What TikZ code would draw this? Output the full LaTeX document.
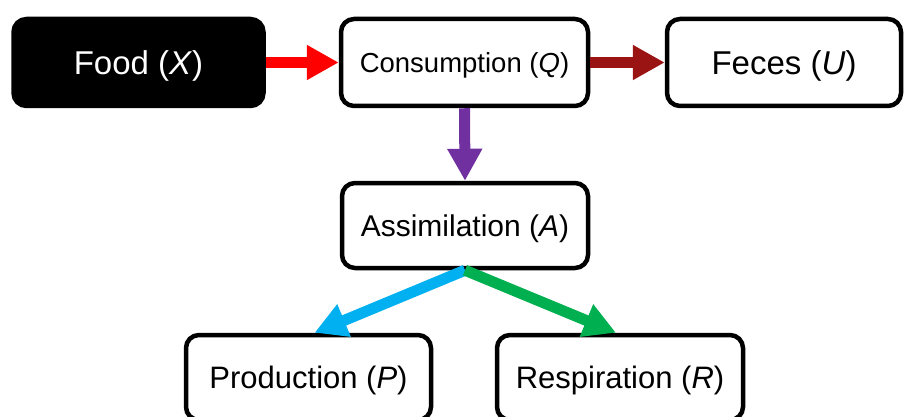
\documentclass[tikz,border=0pt]{standalone}
\usepackage{fontspec}
\setmainfont{Liberation Sans}
\usetikzlibrary{arrows.meta,calc}
\definecolor{arrred}{RGB}{255,0,0}
\definecolor{arrdark}{RGB}{155,20,20}
\definecolor{arrpurple}{RGB}{112,48,160}
\definecolor{arrcyan}{RGB}{0,176,240}
\definecolor{arrgreen}{RGB}{0,176,80}
\tikzset{
  box/.style={draw=black, line width=4.5pt, rounded corners=13pt, fill=white,
    inner sep=0pt, align=center, text depth=0pt},
  foodbox/.style={box, fill=black, text=white},
  flow/.style={line width=11pt, -{Triangle[width=33pt,length=32pt]}},
}
\begin{document}
\begin{tikzpicture}[x=1pt,y=-1pt]
\useasboundingbox (0,0) rectangle (905,417);
\clip (0,0) rectangle (905,417);
\node[foodbox, minimum width=250pt, minimum height=87pt] (food) at (138.5,62.5)
  {\fontsize{33}{36}\selectfont Food (\textit{X})};
\node[box, minimum width=247pt, minimum height=87pt] (cons) at (464.5,62.5)
  {\fontsize{27.5}{30}\selectfont Consumption (\textit{Q})};
\node[box, minimum width=234pt, minimum height=87pt] (feces) at (784,62.5)
  {\fontsize{33}{36}\selectfont Feces (\textit{U})};
\node[box, minimum width=246pt, minimum height=85pt] (assim) at (465,225.5)
  {\fontsize{30}{33}\selectfont Assimilation (\textit{A})};
\node[box, minimum width=245pt, minimum height=85pt] (prod) at (308.5,377.5)
  {\fontsize{31}{34}\selectfont Production (\textit{P})};
\node[box, minimum width=246pt, minimum height=85pt] (resp) at (620,377.5)
  {\fontsize{31}{34}\selectfont Respiration (\textit{R})};
\draw[flow, arrred] (food.east) -- (cons.west);
\draw[flow, arrdark] (cons.east) -- (feces.west);
\draw[flow, arrpurple] (cons.south) -- (assim.north);
\draw[flow, arrcyan] (assim.south) -- ($(prod.north)+(6,0)$);
\draw[flow, arrgreen] (assim.south) -- ($(resp.north)+(-4,0)$);
\end{tikzpicture}
\end{document}
